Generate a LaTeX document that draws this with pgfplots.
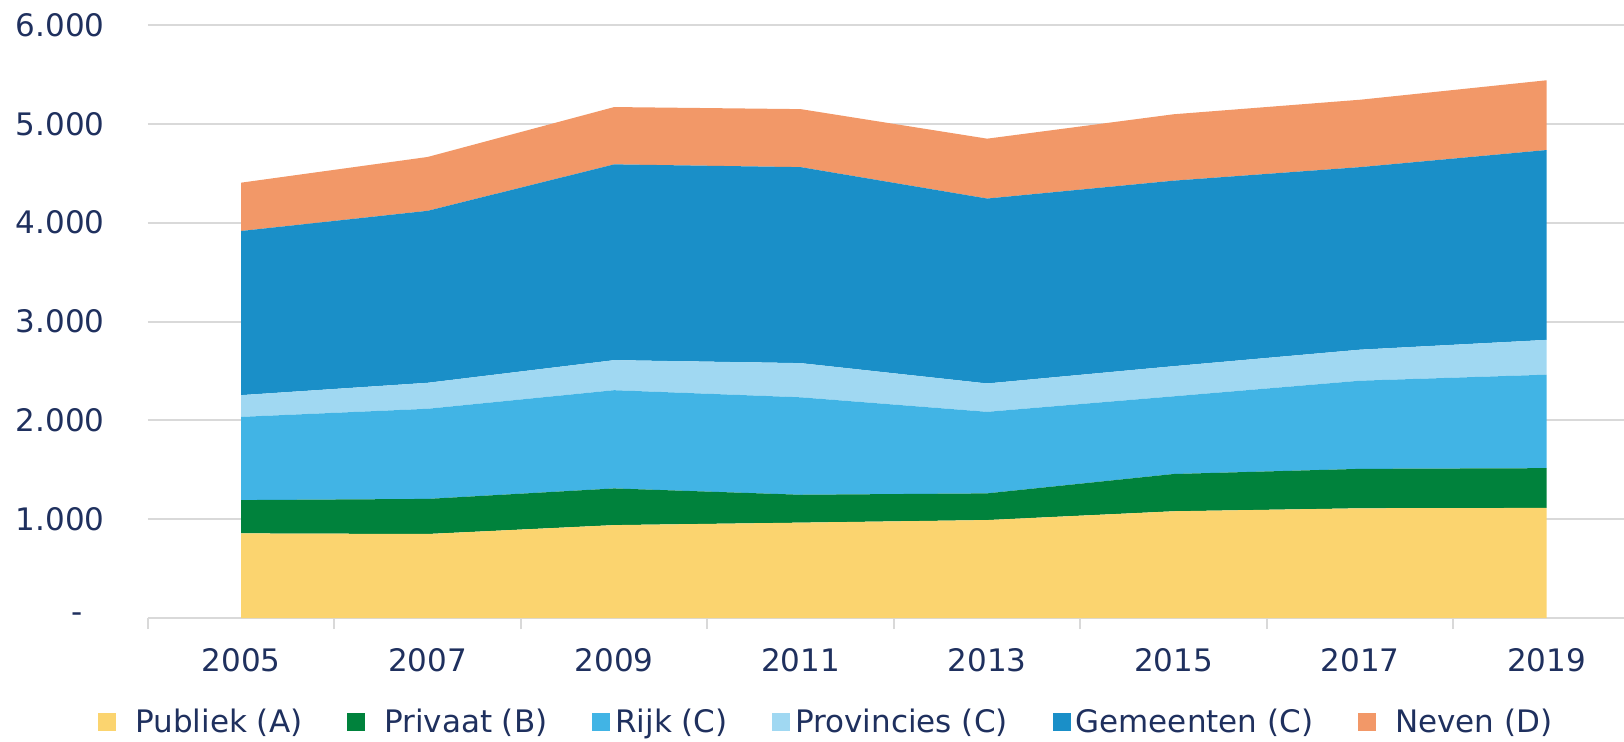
\documentclass[border=0pt]{standalone}
\usepackage{pgfplots}
\pgfplotsset{compat=1.18}
\usepackage{fontspec}
\setmainfont{DejaVu Sans}
\definecolor{txt}{RGB}{31,48,94}
\definecolor{cPub}{RGB}{251,212,111}
\definecolor{cPriv}{RGB}{0,130,60}
\definecolor{cRijk}{RGB}{65,180,229}
\definecolor{cProv}{RGB}{160,216,242}
\definecolor{cGem}{RGB}{26,143,200}
\definecolor{cNev}{RGB}{242,152,104}
\definecolor{gridc}{RGB}{217,217,217}
\begin{document}
\begin{tikzpicture}
\useasboundingbox (-74pt,-61.5pt) rectangle (738pt,309pt);
\begin{axis}[
  at={(0,0)}, anchor=south west,
  scale only axis, width=738pt, height=296.5pt,
  xmin=-0.5, xmax=7.415, ymin=0, ymax=6000,
  stack plots=y,
  axis lines*=left,
  x axis line style={draw=gridc, line width=1pt},
  y axis line style={draw=none},
  ytick={0,1000,2000,3000,4000,5000,6000},
  yticklabels={{\makebox[1.06em][l]{-}},1.000,2.000,3.000,4.000,5.000,6.000},
  ymajorgrids,
  grid style={draw=gridc, line width=1pt},
  xtick={0,1,2,3,4,5,6,7},
  xticklabels={2005,2007,2009,2011,2013,2015,2017,2019},
  minor xtick={-0.5,0.5,1.5,2.5,3.5,4.5,5.5,6.5},
  major tick length=0pt,
  minor tick length=5.5pt,
  tick align=outside,
  major x tick style={draw=none},
  major y tick style={draw=none},
  minor x tick style={draw=gridc, line width=1pt},
  tick label style={font=\fontsize{15.5pt}{18pt}\selectfont, text=txt},
  yticklabel style={anchor=east, inner sep=0pt, xshift=-21.5pt},
  xticklabel style={anchor=north, inner sep=0pt, yshift=-15pt},
  legend columns=6,
  legend style={draw=none, fill=none, inner sep=0pt, at={(-0.0339,-0.1754)}, anchor=west,
    font=\fontsize{15.5pt}{18pt}\selectfont, text=txt,
    nodes={inner sep=0pt},
    /tikz/every even column/.append style={column sep=22.4pt}},
  legend image code/.code={\fill[#1] (0pt,-4.5pt) rectangle (9pt,4.5pt);},
]
\addplot[fill=cPub, draw=none] coordinates {(0,856) (1,850) (2,940) (3,965) (4,991) (5,1080) (6,1110) (7,1114)} \closedcycle;
\addlegendentry{\hspace{9.5pt}Publiek (A)}
\addplot[fill=cPriv, draw=none] coordinates {(0,337) (1,355) (2,371) (3,282) (4,270) (5,377) (6,399) (7,402)} \closedcycle;
\addlegendentry{\hspace{9.5pt}Privaat (B)}
\addplot[fill=cRijk, draw=none] coordinates {(0,842) (1,912) (2,994) (3,986) (4,825) (5,786) (6,892) (7,946)} \closedcycle;
\addlegendentry{\hspace{2.5pt}Rijk (C)}
\addplot[fill=cProv, draw=none] coordinates {(0,220) (1,263) (2,304) (3,346) (4,287) (5,305) (6,314) (7,352)} \closedcycle;
\addlegendentry{\hspace{2.5pt}Provincies (C)}
\addplot[fill=cGem, draw=none] coordinates {(0,1661) (1,1740) (2,1981) (3,1983) (4,1871) (5,1877) (6,1847) (7,1921)} \closedcycle;
\addlegendentry{\hspace{2.5pt}Gemeenten (C)}
\addplot[fill=cNev, draw=none] coordinates {(0,489) (1,545) (2,580) (3,587) (4,606) (5,672) (6,682) (7,706)} \closedcycle;
\addlegendentry{\hspace{9.5pt}Neven (D)}
\end{axis}
\end{tikzpicture}
\end{document}
